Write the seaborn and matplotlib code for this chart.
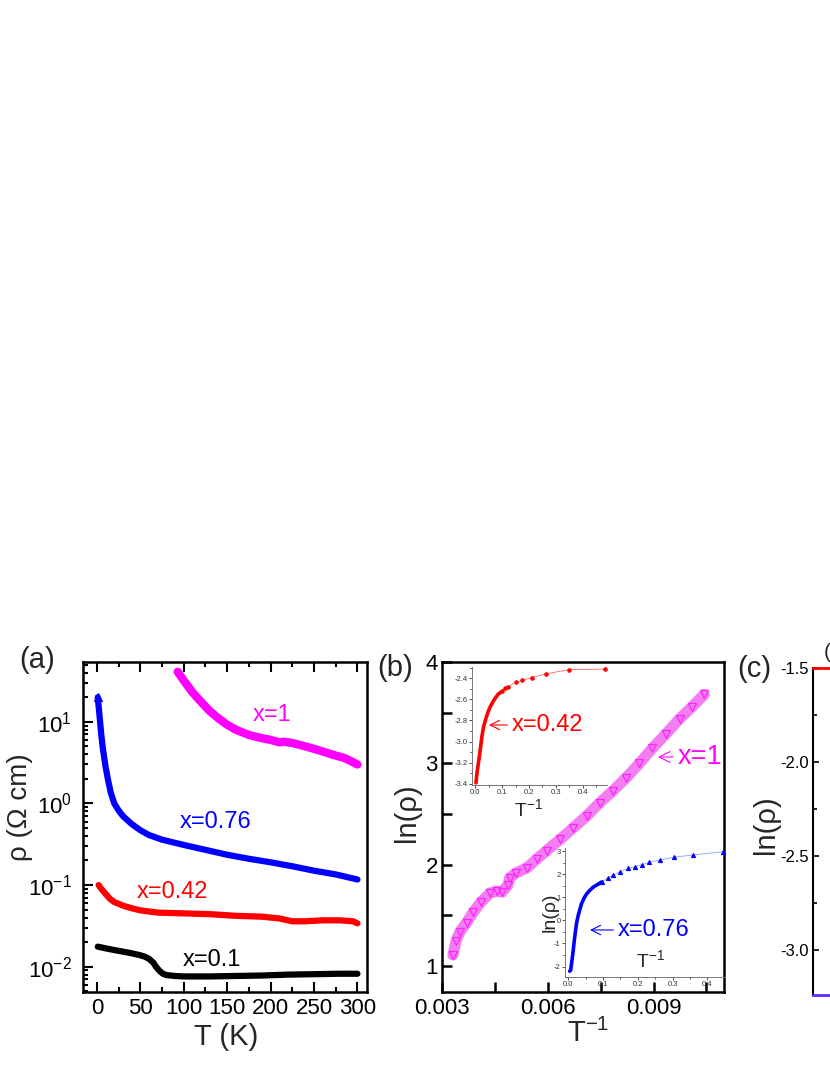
import numpy as np
import matplotlib
matplotlib.use("Agg")
import matplotlib.pyplot as plt
import seaborn as sns
from matplotlib.ticker import (MultipleLocator, FixedLocator, LogLocator,
                               LogFormatterMathtext, NullFormatter, FormatStrFormatter)

# ---- datos panel (a): rho vs T ----
T_x1 = [93, 100, 110, 120, 130, 140, 150, 160, 175, 190, 200, 210, 215, 225, 240, 255, 270, 285, 295, 300]
rho_x1 = [41, 32, 23, 17.5, 13.5, 11, 9.2, 8.0, 6.9, 6.3, 6.0, 5.6, 5.7, 5.5, 5.0, 4.5, 4.0, 3.6, 3.2, 3.0]

T_x076 = [1, 3, 5, 7, 10, 13, 16, 20, 25, 30, 40, 50, 60, 75, 100, 125, 150, 175, 200, 225, 250, 275, 300]
rho_x076 = [20, 12, 7, 4.6, 2.8, 1.9, 1.35, 1.0, 0.82, 0.7, 0.56, 0.47, 0.41, 0.36, 0.31, 0.27,
            0.235, 0.21, 0.19, 0.17, 0.15, 0.135, 0.117]

T_x042 = [2, 5, 10, 15, 20, 30, 40, 50, 70, 100, 130, 160, 190, 210, 225, 240, 260, 280, 295, 300]
rho_x042 = [0.1, 0.09, 0.078, 0.068, 0.062, 0.056, 0.052, 0.049, 0.046, 0.045, 0.044, 0.042,
            0.041, 0.039, 0.036, 0.036, 0.037, 0.037, 0.036, 0.034]

T_x01 = [1, 10, 20, 30, 40, 50, 55, 60, 65, 68, 72, 76, 80, 90, 100, 130, 160, 190, 220, 250, 280, 300]
rho_x01 = [0.0176, 0.0168, 0.016, 0.0153, 0.0146, 0.0138, 0.0133, 0.0125, 0.0112, 0.0100, 0.0089,
           0.0082, 0.0079, 0.0077, 0.0076, 0.0076, 0.0077, 0.0078, 0.0080, 0.0081, 0.0082, 0.0082]

# ---- datos panel (b): ln(rho) vs 1/T ----
inv_x1 = [0.00331, 0.00340, 0.00351, 0.00370, 0.00388, 0.00410, 0.00436, 0.00455, 0.00470, 0.00487,
          0.00492, 0.00510, 0.00541, 0.00570, 0.00597, 0.00635, 0.00671, 0.00710, 0.00747, 0.00785,
          0.00823, 0.00860, 0.00897, 0.00935, 0.00974, 0.01010, 0.01044]
ln_x1 = [1.11, 1.25, 1.34, 1.43, 1.53, 1.63, 1.72, 1.74, 1.73, 1.80, 1.87, 1.92, 1.97, 2.06, 2.14,
         2.25, 2.36, 2.48, 2.61, 2.73, 2.86, 3.00, 3.15, 3.29, 3.44, 3.56, 3.68]

# inserto x=0.42
inv_x042 = [0.003, 0.005, 0.008, 0.012, 0.018, 0.025, 0.031, 0.040, 0.049, 0.058, 0.068, 0.077, 0.086,
            0.100, 0.110, 0.123, 0.150, 0.175, 0.210, 0.263, 0.348, 0.484]
ln_x042 = [-3.39, -3.33, -3.27, -3.20, -3.09, -2.95, -2.86, -2.78, -2.71, -2.66, -2.615, -2.58, -2.55,
           -2.525, -2.49, -2.48, -2.44, -2.42, -2.395, -2.36, -2.32, -2.315]

# inserto x=0.76
inv_x076 = [0.004, 0.0067, 0.0095, 0.0125, 0.016, 0.019, 0.024, 0.029, 0.038, 0.046, 0.053, 0.062, 0.072,
            0.082, 0.096, 0.115, 0.130, 0.149, 0.173, 0.192, 0.211, 0.232, 0.264, 0.303, 0.360, 0.445]
ln_x076 = [-2.2, -2.16, -1.85, -1.51, -1.05, -0.65, -0.1, 0.25, 0.72, 0.98, 1.15, 1.30, 1.44, 1.53,
           1.66, 1.84, 1.96, 2.10, 2.25, 2.32, 2.40, 2.51, 2.61, 2.73, 2.83, 2.97]

sns.set_theme(style="ticks")
plt.rcParams['font.family'] = ['Liberation Sans', 'DejaVu Sans']
plt.rcParams['mathtext.fontset'] = 'custom'
plt.rcParams['mathtext.rm'] = 'Liberation Sans'
plt.rcParams['mathtext.it'] = 'Liberation Sans:italic'
plt.rcParams['mathtext.default'] = 'regular'

W, H = 830, 1075


def rect(x0, y0, x1, y1):
    # pixeles (desde arriba) -> fracción de figura
    return [x0 / W, 1 - y1 / H, (x1 - x0) / W, (y1 - y0) / H]


def fp(x, y):
    return (x / W, 1 - y / H)


fig = plt.figure(figsize=(8.3, 10.75), dpi=100)

# ================= (a) =================
ax_a = fig.add_axes(rect(83, 662, 367, 992))
sns.lineplot(x=T_x01, y=rho_x01, ax=ax_a, color='black', lw=4.5, sort=False, estimator=None)
sns.lineplot(x=T_x042, y=rho_x042, ax=ax_a, color='red', lw=4.5, sort=False, estimator=None)
sns.lineplot(x=T_x076, y=rho_x076, ax=ax_a, color='blue', lw=4.5, sort=False, estimator=None)
sns.lineplot(x=T_x076[:1], y=rho_x076[:1], ax=ax_a, color='blue', lw=0, sort=False, estimator=None,
             marker='^', markersize=6, mec='blue')
sns.lineplot(x=T_x1, y=rho_x1, ax=ax_a, color='magenta', lw=6, sort=False, estimator=None)
ax_a.set_yscale('log')
ax_a.set_xlim(-16, 311)
ax_a.set_ylim(0.0049, 54)
ax_a.xaxis.set_major_locator(MultipleLocator(50))
ax_a.xaxis.set_minor_locator(MultipleLocator(25))
ax_a.yaxis.set_major_locator(LogLocator(base=10, numticks=10))
ax_a.yaxis.set_minor_locator(LogLocator(base=10, subs=np.arange(2, 10), numticks=20))
ax_a.yaxis.set_major_formatter(LogFormatterMathtext())
ax_a.yaxis.set_minor_formatter(NullFormatter())
ax_a.tick_params(which='both', direction='in', top=True, right=False, width=1.5, colors='black')
ax_a.tick_params(which='major', length=7)
ax_a.tick_params(which='minor', length=3.5)
ax_a.tick_params(axis='x', labelsize=16, pad=4)
ax_a.tick_params(axis='y', labelsize=16, pad=8)
for s in ax_a.spines.values():
    s.set_linewidth(1.8)
    s.set_color('black')
ax_a.set_xlabel('')
ax_a.set_ylabel('')

fig.text(*fp(226, 1037), 'T (K)', fontsize=21, ha='center', va='center')
fig.text(*fp(20, 807), 'ρ (Ω cm)', fontsize=20, ha='center', va='center', rotation=90)
fig.text(*fp(37, 660), '(a)', fontsize=21, ha='center', va='center')
fig.text(*fp(253, 715), 'x=1', fontsize=17, color='magenta', va='center')
fig.text(*fp(180, 822), 'x=0.76', fontsize=17, color='blue', va='center')
fig.text(*fp(137, 892), 'x=0.42', fontsize=17, color='red', va='center')
fig.text(*fp(183, 960), 'x=0.1', fontsize=17, color='black', va='center')

# ================= (b) =================
ax_b = fig.add_axes(rect(442, 662, 724, 992))
sns.lineplot(x=inv_x1, y=ln_x1, ax=ax_b, color='#f27ef2', lw=8, sort=False, estimator=None)
sns.lineplot(x=inv_x1, y=ln_x1, ax=ax_b, color='#ff22ff', lw=0, sort=False, estimator=None,
             marker='v', markersize=6, mfc='none', mec='#ff22ff', mew=0.9)
ax_b.set_xlim(0.003, 0.011)
ax_b.set_ylim(0.745, 4)
ax_b.xaxis.set_major_locator(FixedLocator([0.003, 0.006, 0.009]))
ax_b.xaxis.set_minor_locator(MultipleLocator(0.0015))
ax_b.xaxis.set_major_formatter(FormatStrFormatter('%.3f'))
ax_b.yaxis.set_major_locator(MultipleLocator(1))
ax_b.yaxis.set_minor_locator(MultipleLocator(0.5))
ax_b.yaxis.set_major_formatter(FormatStrFormatter('%d'))
ax_b.tick_params(which='both', direction='in', top=False, right=False, width=1.8, length=7,
                 colors='black')
ax_b.tick_params(axis='x', labelsize=16, pad=4)
ax_b.tick_params(axis='y', labelsize=16, pad=3)
for s in ax_b.spines.values():
    s.set_linewidth(1.8)
    s.set_color('black')
ax_b.set_xlabel('')
ax_b.set_ylabel('')

fig.text(*fp(588, 1033), 'T$^{-1}$', fontsize=21, ha='center', va='center')
fig.text(*fp(407, 813), 'ln(ρ)', fontsize=21, ha='center', va='center', rotation=90)
fig.text(*fp(395, 668), '(b)', fontsize=21, ha='center', va='center')
ax_b.annotate('x=1', xy=fp(658, 757), xytext=fp(678, 757), xycoords='figure fraction',
              textcoords='figure fraction', fontsize=19.5, color='magenta', va='center',
              arrowprops=dict(arrowstyle='->', color='magenta', lw=0.8, shrinkA=1, shrinkB=0))

# inserto x=0.42
ax_i1 = fig.add_axes(rect(472, 667, 607, 785))
ax_i1.patch.set_alpha(0)
sns.lineplot(x=inv_x042, y=ln_x042, ax=ax_i1, color='red', lw=0.6, alpha=0.6, sort=False, estimator=None)
sns.lineplot(x=inv_x042[:14], y=ln_x042[:14], ax=ax_i1, color='red', lw=2.6, sort=False, estimator=None)
sns.lineplot(x=inv_x042[13:], y=ln_x042[13:], ax=ax_i1, color='red', lw=0, sort=False, estimator=None,
             marker='o', markersize=2.5, mec='red')
ax_i1.set_xlim(-0.012, 0.49)
ax_i1.set_ylim(-3.41, -2.295)
ax_i1.xaxis.set_major_locator(MultipleLocator(0.1))
ax_i1.xaxis.set_minor_locator(MultipleLocator(0.05))
ax_i1.yaxis.set_major_locator(MultipleLocator(0.2))
ax_i1.yaxis.set_minor_locator(MultipleLocator(0.1))
ax_i1.xaxis.set_major_formatter(FormatStrFormatter('%.1f'))
ax_i1.yaxis.set_major_formatter(FormatStrFormatter('%.1f'))
ax_i1.tick_params(which='both', direction='out', labelsize=5.5, width=0.6, pad=1, colors='#333333')
ax_i1.tick_params(which='major', length=2)
ax_i1.tick_params(which='minor', length=1.2)
for side in ['top', 'right']:
    ax_i1.spines[side].set_visible(False)
for side in ['left', 'bottom']:
    ax_i1.spines[side].set_linewidth(0.7)
    ax_i1.spines[side].set_color('#777777')
ax_i1.set_xlabel('')
ax_i1.set_ylabel('')
fig.text(*fp(528, 809), 'T$^{-1}$', fontsize=14, ha='center', va='center')
ax_i1.annotate('x=0.42', xy=fp(489, 725), xytext=fp(512, 725), xycoords='figure fraction',
               textcoords='figure fraction', fontsize=17, color='red', va='center',
               arrowprops=dict(arrowstyle='->', color='red', lw=0.8, shrinkA=1, shrinkB=0))

# inserto x=0.76
ax_i2 = fig.add_axes(rect(565, 848, 725, 977))
ax_i2.patch.set_alpha(0)
sns.lineplot(x=inv_x076, y=ln_x076, ax=ax_i2, color='#5577ff', lw=0.6, alpha=0.7, sort=False, estimator=None)
sns.lineplot(x=inv_x076[:15], y=ln_x076[:15], ax=ax_i2, color='blue', lw=2.6, sort=False, estimator=None)
sns.lineplot(x=inv_x076[14:], y=ln_x076[14:], ax=ax_i2, color='blue', lw=0, sort=False, estimator=None,
             marker='^', markersize=3, mec='blue')
ax_i2.set_xlim(-0.0095, 0.451)
ax_i2.set_ylim(-2.45, 3.13)
ax_i2.xaxis.set_major_locator(MultipleLocator(0.1))
ax_i2.xaxis.set_minor_locator(MultipleLocator(0.05))
ax_i2.yaxis.set_major_locator(MultipleLocator(1))
ax_i2.yaxis.set_minor_locator(MultipleLocator(0.5))
ax_i2.xaxis.set_major_formatter(FormatStrFormatter('%.1f'))
ax_i2.yaxis.set_major_formatter(FormatStrFormatter('%d'))
ax_i2.tick_params(which='both', direction='out', labelsize=5.5, width=0.6, pad=1, colors='#333333')
ax_i2.tick_params(which='major', length=2)
ax_i2.tick_params(which='minor', length=1.2)
for side in ['top', 'right']:
    ax_i2.spines[side].set_visible(False)
for side in ['left', 'bottom']:
    ax_i2.spines[side].set_linewidth(0.7)
    ax_i2.spines[side].set_color('#777777')
ax_i2.set_xlabel('')
ax_i2.set_ylabel('')
fig.text(*fp(650, 960), 'T$^{-1}$', fontsize=14, ha='center', va='center')
fig.text(*fp(550, 912), 'ln(ρ)', fontsize=14, ha='center', va='center', rotation=90)
ax_i2.annotate('x=0.76', xy=fp(590, 930), xytext=fp(618, 930), xycoords='figure fraction',
               textcoords='figure fraction', fontsize=17, color='blue', va='center',
               arrowprops=dict(arrowstyle='->', color='blue', lw=0.8, shrinkA=1, shrinkB=0))

# ================= (c) (cortado en el borde) =================
ax_c = fig.add_axes(rect(813, 668, 1100, 995))
ax_c.set_xlim(0, 1)
ax_c.set_ylim(-3.24, -1.5)
ax_c.set_xticks([])
ax_c.yaxis.set_major_locator(MultipleLocator(0.5))
ax_c.yaxis.set_minor_locator(MultipleLocator(0.25))
ax_c.yaxis.set_major_formatter(FormatStrFormatter('%.1f'))
ax_c.tick_params(which='both', direction='in', labelsize=12, pad=3, width=1.2, colors='black')
ax_c.tick_params(which='major', length=4)
ax_c.tick_params(which='minor', length=3)
ax_c.spines['left'].set_linewidth(1.5)
ax_c.spines['left'].set_color('black')
ax_c.spines['top'].set_color('red')
ax_c.spines['top'].set_linewidth(2)
ax_c.spines['bottom'].set_color('#5a2cff')
ax_c.spines['bottom'].set_linewidth(2)
fig.text(*fp(766, 825), 'ln(ρ)', fontsize=21, ha='center', va='center', rotation=90)
fig.text(*fp(754, 669), '(c)', fontsize=21, ha='center', va='center')
fig.text(*fp(824, 653), '(', fontsize=15, ha='left', va='center')

fig.savefig('out.png', dpi=100)
